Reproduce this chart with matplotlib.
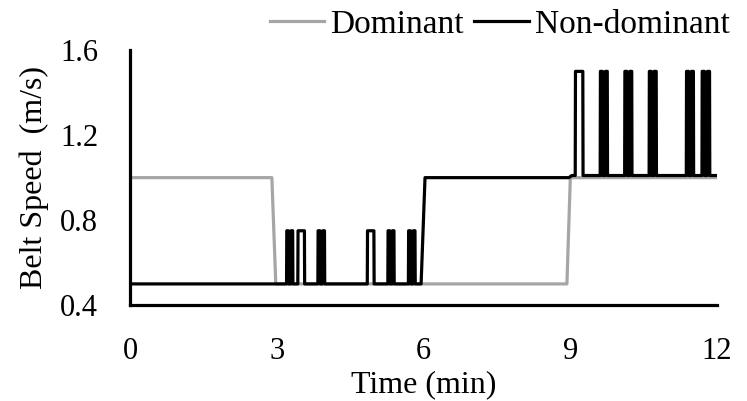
import matplotlib.pyplot as plt
import numpy as np

# dominant belt: plain step profile
dom_time = [0, 2.90, 2.98, 8.93, 9.00, 12]
dom_speed = [1.0, 1.0, 0.5, 0.5, 1.0, 1.0]

# non-dominant belt: base levels and perturbation spikes (start, end, sub-pulses)
base_low, spike_low = 0.5, 0.75
base_high, spike_high = 1.01, 1.5
low_spikes = [(3.20, 3.33, 2), (3.43, 3.57, 1), (3.84, 3.98, 2),
              (4.85, 4.99, 1), (5.27, 5.40, 2), (5.69, 5.83, 2)]
high_spikes = [(9.10, 9.26, 1), (9.61, 9.76, 2), (10.11, 10.26, 2),
               (10.61, 10.76, 2), (11.37, 11.52, 2), (11.69, 11.85, 2)]
ramp = (5.95, 6.03)


def add_spikes(t, v, spikes, base, top):
    for t0, t1, n in spikes:
        edges = np.linspace(t0, t1, 2 * n)
        for k in range(n):
            a, b = edges[2 * k], edges[2 * k + 1]
            t += [a, a + 0.005, b - 0.005, b]
            v += [base, top, top, base]


nd_t, nd_v = [0], [base_low]
add_spikes(nd_t, nd_v, low_spikes, base_low, spike_low)
nd_t += [ramp[0], ramp[1], 8.97, 9.03]
nd_v += [base_low, 1.0, 1.0, base_high]
add_spikes(nd_t, nd_v, high_spikes, base_high, spike_high)
nd_t += [12]
nd_v += [base_high]

plt.rcParams['font.family'] = ['Liberation Serif', 'DejaVu Serif']
plt.rcParams['font.size'] = 22

fig = plt.figure(figsize=(7.47, 4.01), dpi=100)
ax = fig.add_axes([0.174, 0.239, 0.786, 0.636])

ax.plot(dom_time, dom_speed, color='#a6a6a6', lw=2.3, label='Dominant',
        solid_joinstyle='round')
ax.plot(nd_t, nd_v, color='black', lw=2.3, label='Non-dominant',
        solid_joinstyle='round')

ax.set_xlim(0, 12)
ax.set_ylim(0.4, 1.6)
ax.set_xticks([0, 3, 6, 9, 12])
ax.set_yticks([0.4, 0.8, 1.2, 1.6])
ax.set_yticklabels(['0.4', '0.8', '1.2', '1.6'])
ax.tick_params(axis='x', length=0, pad=23)
ax.tick_params(axis='y', length=0, pad=23)
for s in ['top', 'right']:
    ax.spines[s].set_visible(False)
for s in ['left', 'bottom']:
    ax.spines[s].set_linewidth(2.3)

ax.set_xlabel('Time (min)', fontsize=23, labelpad=3)
ax.set_ylabel('Belt Speed  (m/s)', fontsize=23, labelpad=8)

fig.legend(*ax.get_legend_handles_labels(), loc='center',
           bbox_to_anchor=(0.669, 0.938), ncol=2, frameon=False,
           fontsize=24, handlelength=1.64, handletextpad=0.18,
           columnspacing=0.3, borderaxespad=0, borderpad=0)

fig.savefig('out.png', dpi=100)
